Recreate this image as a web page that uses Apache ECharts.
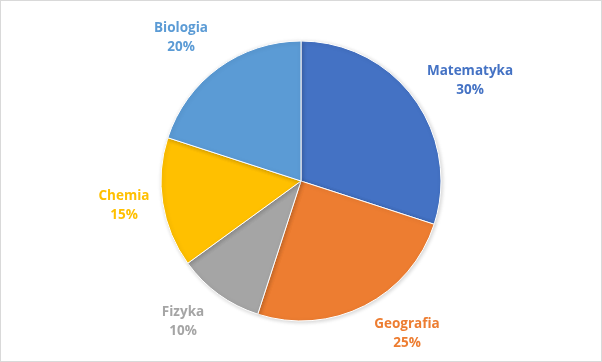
<!DOCTYPE html>
<html><head><meta charset="utf-8">
<script src="https://cdn.jsdelivr.net/npm/echarts@6/dist/echarts.min.js"></script>
<style>
html,body{margin:0;padding:0;background:#fff;}
#c{width:602px;height:362px;box-sizing:border-box;border:1px solid #d9d9d9;}
</style></head>
<body><div id="c"></div>
<script>
const categories = ['Matematyka','Geografia','Fizyka','Chemia','Biologia'];
const values = [30,25,10,15,20];
const colors = ['#4472C4','#ED7D31','#A5A5A5','#FFC000','#5B9BD5'];
// label centres (layout only)
const labelPos = [[470,81],[407,334],[183,322],[124,206],[181,38]];

const chart = echarts.init(document.getElementById('c'), null, {renderer:'canvas'});
chart.setOption({
  animation:false,
  series:[{
    type:'pie',
    center:[300,180],
    radius:140,
    startAngle:90,
    clockwise:true,
    data: categories.map((n,i)=>({name:n,value:values[i],itemStyle:{color:colors[i]},label:{color:colors[i]}})),
    itemStyle:{borderColor:'#fff',borderWidth:1,shadowBlur:4,shadowColor:'rgba(0,0,0,0.18)',shadowOffsetX:1,shadowOffsetY:1},
    label:{
      show:true,
      position:'outside',
      formatter:'{b}\n{d}%',
      fontFamily:'Open Sans',
      fontWeight:'bold',
      fontSize:13.5,
      lineHeight:19,
      align:'center'
    },
    labelLine:{show:false},
    labelLayout:function(p){
      const q = labelPos[p.dataIndex];
      return {x:q[0]-1, y:q[1]-1, align:'center', verticalAlign:'middle'};
    }
  }]
});
</script></body></html>
